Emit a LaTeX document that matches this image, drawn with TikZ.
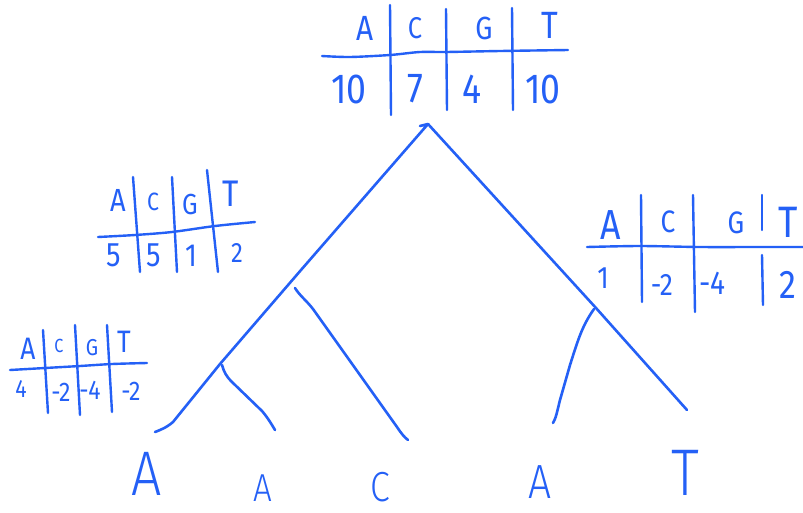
\documentclass[tikz,border=0pt]{standalone}
\usepackage{fontspec}
\setmainfont{Fira Sans}
\IfFontExistsTF{Fira Sans Light}
  {\newfontfamily\hand[FakeStretch=0.85]{Fira Sans Light}}
  {\newfontfamily\hand[FakeStretch=0.8]{Fira Sans}}
\newfontfamily\tabf[FakeStretch=0.85]{Fira Sans}
\definecolor{pen}{RGB}{36,96,246}
\newcommand{\fs}[1]{\fontsize{#1}{#1}\selectfont}
\begin{document}
\begin{tikzpicture}[x=1pt,y=-1pt,
  ink/.style={draw=pen, line width=2.6pt, line cap=round, line join=round},
  rule/.style={draw=pen, line width=2.4pt, line cap=round, line join=round},
  lbl/.style={text=pen, inner sep=0pt, anchor=center, font=\hand\fs{#1}},
  lbl/.default=30,
  cell/.style={text=pen, inner sep=0pt, anchor=center, font=\tabf\fs{#1}},
  cell/.default=30]
\useasboundingbox[fill=white] (0,0) rectangle (803,512);

% ---------- tree ----------
\coordinate (root) at (428,124);
\coordinate (hook) at (420,126);
\coordinate (jL) at (301,270);
\coordinate (jLL) at (220,364);
\coordinate (eA1) at (155,432);
\coordinate (sA2) at (222,365);
\coordinate (eA2) at (275,430);
\coordinate (sC) at (295,288);
\coordinate (eC) at (408,440);
\coordinate (jR) at (596,308);
\coordinate (eT) at (687,410);
\coordinate (sA3) at (594,309);
\coordinate (eA3) at (553,423);

\draw[ink] (hook) -- (root) -- (jL) -- (jLL) -- (173,422) .. controls (166,428) and (160,430) .. (eA1);
\draw[ink] (sA2) .. controls (224,372) and (226,376) .. (232,382) -- (262,411) .. controls (268,418) and (272,425) .. (eA2);
\draw[ink] (sC) .. controls (300,296) and (306,300) .. (313,309) -- (397,427) .. controls (401,433) and (404,437) .. (eC);
\draw[ink] (root) -- (jR) -- (eT);
\draw[ink] (sA3) .. controls (582,326) and (578,340) .. (570,365) -- (560,400) .. controls (557,412) and (556,418) .. (eA3);

% ---------- leaves ----------
\node[lbl=63] (lA1) at (147,474) {A};
\node[lbl=39] (lA2) at (263,488) {A};
\node[lbl=42] (lC) at (380,487) {C};
\node[lbl=48] (lA3) at (540,482) {A};
\node[lbl=66] (lT) at (685,473) {T};

% ---------- top table ----------
\draw[rule] plot[smooth] coordinates {(322,56) (350,57) (390,55) (420,52) (446,52) (500,51) (568,50)};
\draw[rule] (390,5) -- (391,115);
\draw[rule] (446,9) -- (447,110);
\draw[rule] (512,8) -- (513,110);
\node[cell=35] (tA) at (365,28) {A};
\node[cell=30] (tC) at (415,28) {C};
\node[cell=32] (tG) at (484,28) {G};
\node[cell=38] (tT) at (550,25) {T};
\node[cell=42] (t1) at (349,89) {10};
\node[cell=42] (t2) at (415,89) {7};
\node[cell=42] (t3) at (472,89) {4};
\node[cell=42] (t4) at (543,89) {10};

% ---------- left middle table ----------
\draw[rule] plot[smooth] coordinates {(98,237) (135,235) (172,232) (215,226) (255,222)};
\draw[rule] (133,177) -- (140,272);
\draw[rule] (172,177) -- (177,272);
\draw[rule] (207,170) -- (218,272);
\node[cell=32] (mA) at (118,200) {A};
\node[cell=25] (mC) at (153,202) {C};
\node[cell=29] (mG) at (190,205) {G};
\node[cell=37] (mT) at (231,194) {T};
\node[cell=34] (m1) at (114,255) {5};
\node[cell=34] (m2) at (154,255) {5};
\node[cell=32] (m3) at (191,256) {1};
\node[cell=28] (m4) at (237,253) {2};

% ---------- bottom left table ----------
\draw[rule] plot[smooth] coordinates {(10,370) (45,368) (80,366) (112,364) (147,363)};
\draw[rule] (43,330) -- (48,413);
\draw[rule] (75,325) -- (80,415);
\draw[rule] (107,325) -- (112,412);
\node[cell=31] (bA) at (28,349) {A};
\node[cell=19] (bC) at (59,346) {C};
\node[cell=23] (bG) at (92,348) {G};
\node[cell=31] (bT) at (124,342) {T};
\node[cell=25] (b1) at (21,389) {4};
\node[cell=27] (b2) at (61,392) {-2};
\node[cell=27] (b3) at (90,390) {-4};
\node[cell=27] (b4) at (131,391) {-2};

% ---------- right table ----------
\draw[rule] plot[smooth] coordinates {(587,247) (640,246) (700,247) (760,247) (810,247)};
\draw[rule] (641,195) -- (642,302);
\draw[rule] (693,195) -- (695,312);
\draw[rule] (762,195) -- (762,230);
\draw[rule] (762,255) -- (763,305);
\node[cell=42] (rA) at (611,225) {A};
\node[cell=31] (rC) at (668,222) {C};
\node[cell=31] (rG) at (736,223) {G};
\node[cell=44] (rT) at (788,222) {T};
\node[cell=31] (r1) at (603,278) {1};
\node[cell=31] (r2) at (662,285) {-2};
\node[cell=33] (r3) at (712,283) {-4};
\node[cell=40] (r4) at (788,285) {2};
\end{tikzpicture}
\end{document}
